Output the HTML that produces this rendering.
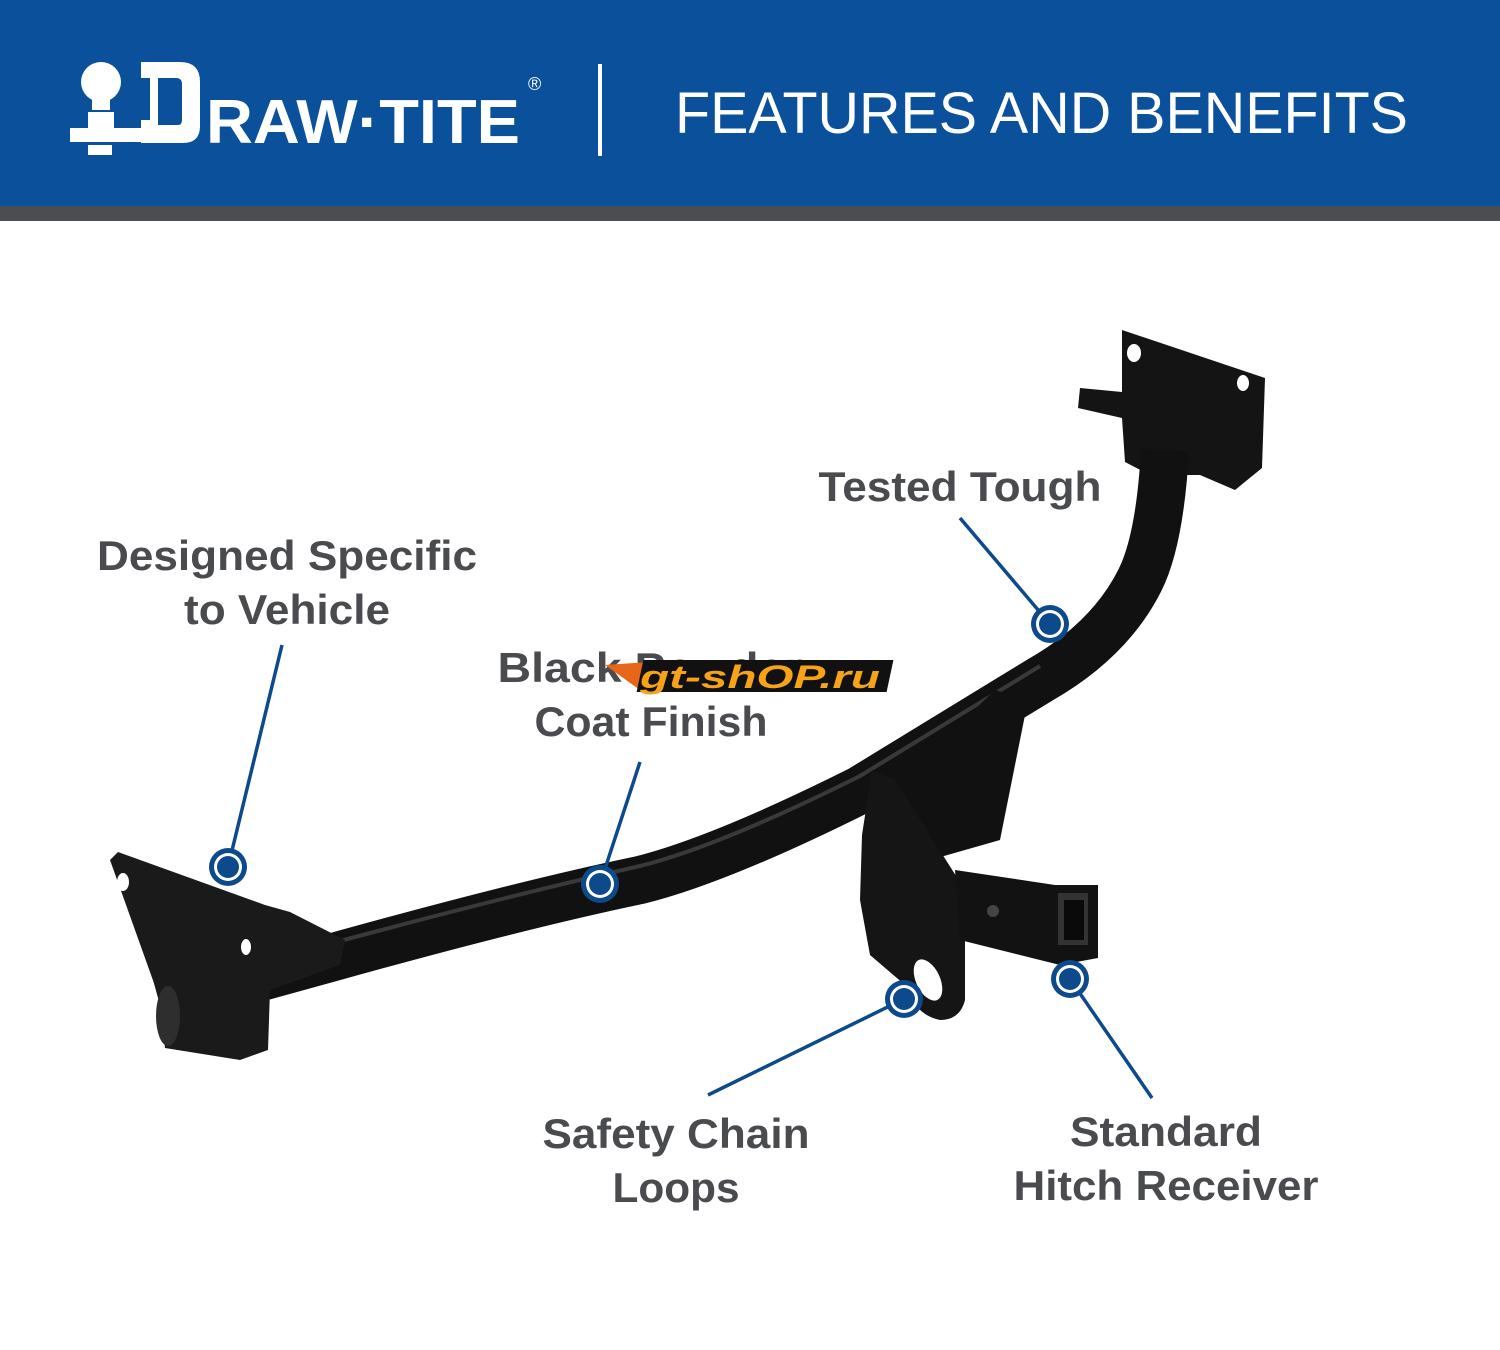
<!DOCTYPE html>
<html><head><meta charset="utf-8"><style>
html,body{margin:0;padding:0;background:#fff}
svg{display:block}
</style></head><body>
<svg width="1500" height="1350" viewBox="0 0 1500 1350" xmlns="http://www.w3.org/2000/svg">
<rect x="0" y="0" width="1500" height="206" fill="#0b509b"/>
<rect x="0" y="206" width="1500" height="15" fill="#4b4d50"/>
<!-- logo -->
<g fill="#fff">
<circle cx="101" cy="82" r="20"/>
<rect x="92" y="98" width="18" height="12"/>
<rect x="88" y="112" width="26" height="16"/>
<rect x="70" y="128" width="80" height="14"/>
<rect x="88" y="145" width="24" height="10"/>
<path d="M141 62 H180 Q200 62 200 82 V126 Q200 143 183 143 H141 V120 H150 V78 H141Z M158 78 V125 H178 Q182 125 182 120 V84 Q182 78 176 78Z" fill-rule="evenodd"/>
</g>
<text x="206" y="143" fill="#fff" font-family="Liberation Sans, sans-serif" font-weight="bold" font-size="62" textLength="314" lengthAdjust="spacingAndGlyphs">RAW·TITE</text>
<text x="528" y="90" fill="#fff" font-family="Liberation Sans, sans-serif" font-size="18">®</text>
<rect x="598" y="64" width="4" height="92" fill="#fff"/>
<text x="675" y="133" fill="#fff" font-family="Liberation Sans, sans-serif" font-size="58" textLength="733" lengthAdjust="spacingAndGlyphs">FEATURES AND BENEFITS</text>

<!-- hitch -->
<g>
<path d="M1122 330 L1265 378 L1262 468 L1235 490 L1200 475 L1150 475 L1125 462 L1122 418 L1078 408 L1080 388 L1122 392Z" fill="#141414"/>
<ellipse cx="1134" cy="353" rx="7" ry="9" fill="#fff"/>
<ellipse cx="1243" cy="383" rx="6" ry="8" fill="#fff"/>
<path d="M160 1005 L330 958 Q520 905 640 880 Q720 860 860 790 L1040 680 Q1110 640 1140 580 Q1160 540 1165 450" fill="none" stroke="#111" stroke-width="48" stroke-linejoin="round"/>
<path d="M340 941 Q520 893 640 866 Q720 846 860 776 L1040 666" fill="none" stroke="#555" stroke-width="4" opacity="0.6"/>
<path d="M995 690 L1028 700 L1000 840 L930 860 L880 800 Z" fill="#111"/>
<path d="M872 770 L895 780 L965 890 L965 1000 Q960 1020 940 1020 Q915 1015 905 985 L870 955 L860 900 L862 835Z" fill="#151515"/>
<ellipse cx="928" cy="980" rx="12" ry="22" transform="rotate(-25 928 980)" fill="#fff"/>
<path d="M955 870 L1055 885 L1098 885 L1098 958 L1060 965 L960 940Z" fill="#121212"/>
<rect x="1058" y="893" width="30" height="52" fill="#333"/>
<rect x="1064" y="900" width="20" height="40" fill="#0a0a0a"/>
<circle cx="993" cy="911" r="6" fill="#444"/>
<path d="M118 852 L265 905 L290 912 L345 940 L340 965 L270 990 L268 1050 L240 1060 L165 1048 L160 1000 L110 860Z" fill="#1a1a1a"/>
<ellipse cx="123" cy="882" rx="6" ry="9" fill="#fff"/>
<ellipse cx="246" cy="947" rx="5" ry="8" fill="#fff"/>
<ellipse cx="168" cy="1016" rx="12" ry="30" fill="#2e2e2e"/>
</g>

<g stroke="#0d4a8c" stroke-width="3.5" fill="none">
<line x1="228" y1="867" x2="282" y2="645"/>
<line x1="600" y1="884" x2="640" y2="762"/>
<line x1="1050" y1="624" x2="960" y2="518"/>
<line x1="904" y1="999" x2="708" y2="1095"/>
<line x1="1070" y1="979" x2="1152" y2="1098"/>
</g>
<g>
<g transform="translate(228 867)"><circle r="19" fill="#0d4a8c"/><circle r="14" fill="#fff"/><circle r="11" fill="#0d4a8c"/></g>
<g transform="translate(600 884)"><circle r="19" fill="#0d4a8c"/><circle r="14" fill="#fff"/><circle r="11" fill="#0d4a8c"/></g>
<g transform="translate(1050 624)"><circle r="19" fill="#0d4a8c"/><circle r="14" fill="#fff"/><circle r="11" fill="#0d4a8c"/></g>
<g transform="translate(904 999)"><circle r="19" fill="#0d4a8c"/><circle r="14" fill="#fff"/><circle r="11" fill="#0d4a8c"/></g>
<g transform="translate(1070 979)"><circle r="19" fill="#0d4a8c"/><circle r="14" fill="#fff"/><circle r="11" fill="#0d4a8c"/></g>
</g>

<g fill="#4a4b4f" font-family="Liberation Sans, sans-serif" font-weight="bold" font-size="42" text-anchor="middle" lengthAdjust="spacingAndGlyphs">
<text x="287" y="570" textLength="380" lengthAdjust="spacingAndGlyphs">Designed Specific</text>
<text x="287" y="624" textLength="206" lengthAdjust="spacingAndGlyphs">to Vehicle</text>
<text x="960" y="501" textLength="283" lengthAdjust="spacingAndGlyphs">Tested Tough</text>
<text x="650" y="682" textLength="305" lengthAdjust="spacingAndGlyphs">Black Powder</text>
<text x="651" y="736" textLength="233" lengthAdjust="spacingAndGlyphs">Coat Finish</text>
<text x="676" y="1148" textLength="267" lengthAdjust="spacingAndGlyphs">Safety Chain</text>
<text x="676" y="1202" textLength="127" lengthAdjust="spacingAndGlyphs">Loops</text>
<text x="1166" y="1146" textLength="192" lengthAdjust="spacingAndGlyphs">Standard</text>
<text x="1166" y="1200" textLength="305" lengthAdjust="spacingAndGlyphs">Hitch Receiver</text>
</g>
<path d="M605 665 L650 662 L640 690 Z" fill="#e8661a"/>
<rect x="640" y="660" width="250" height="32" fill="#111" transform="skewX(-12)" transform-origin="760 676"/>
<text x="760" y="688" fill="#f7a31a" font-family="Liberation Sans, sans-serif" font-weight="bold" font-style="italic" font-size="32" text-anchor="middle" textLength="240" lengthAdjust="spacingAndGlyphs">gt-shOP.ru</text>
</svg>
</body></html>
